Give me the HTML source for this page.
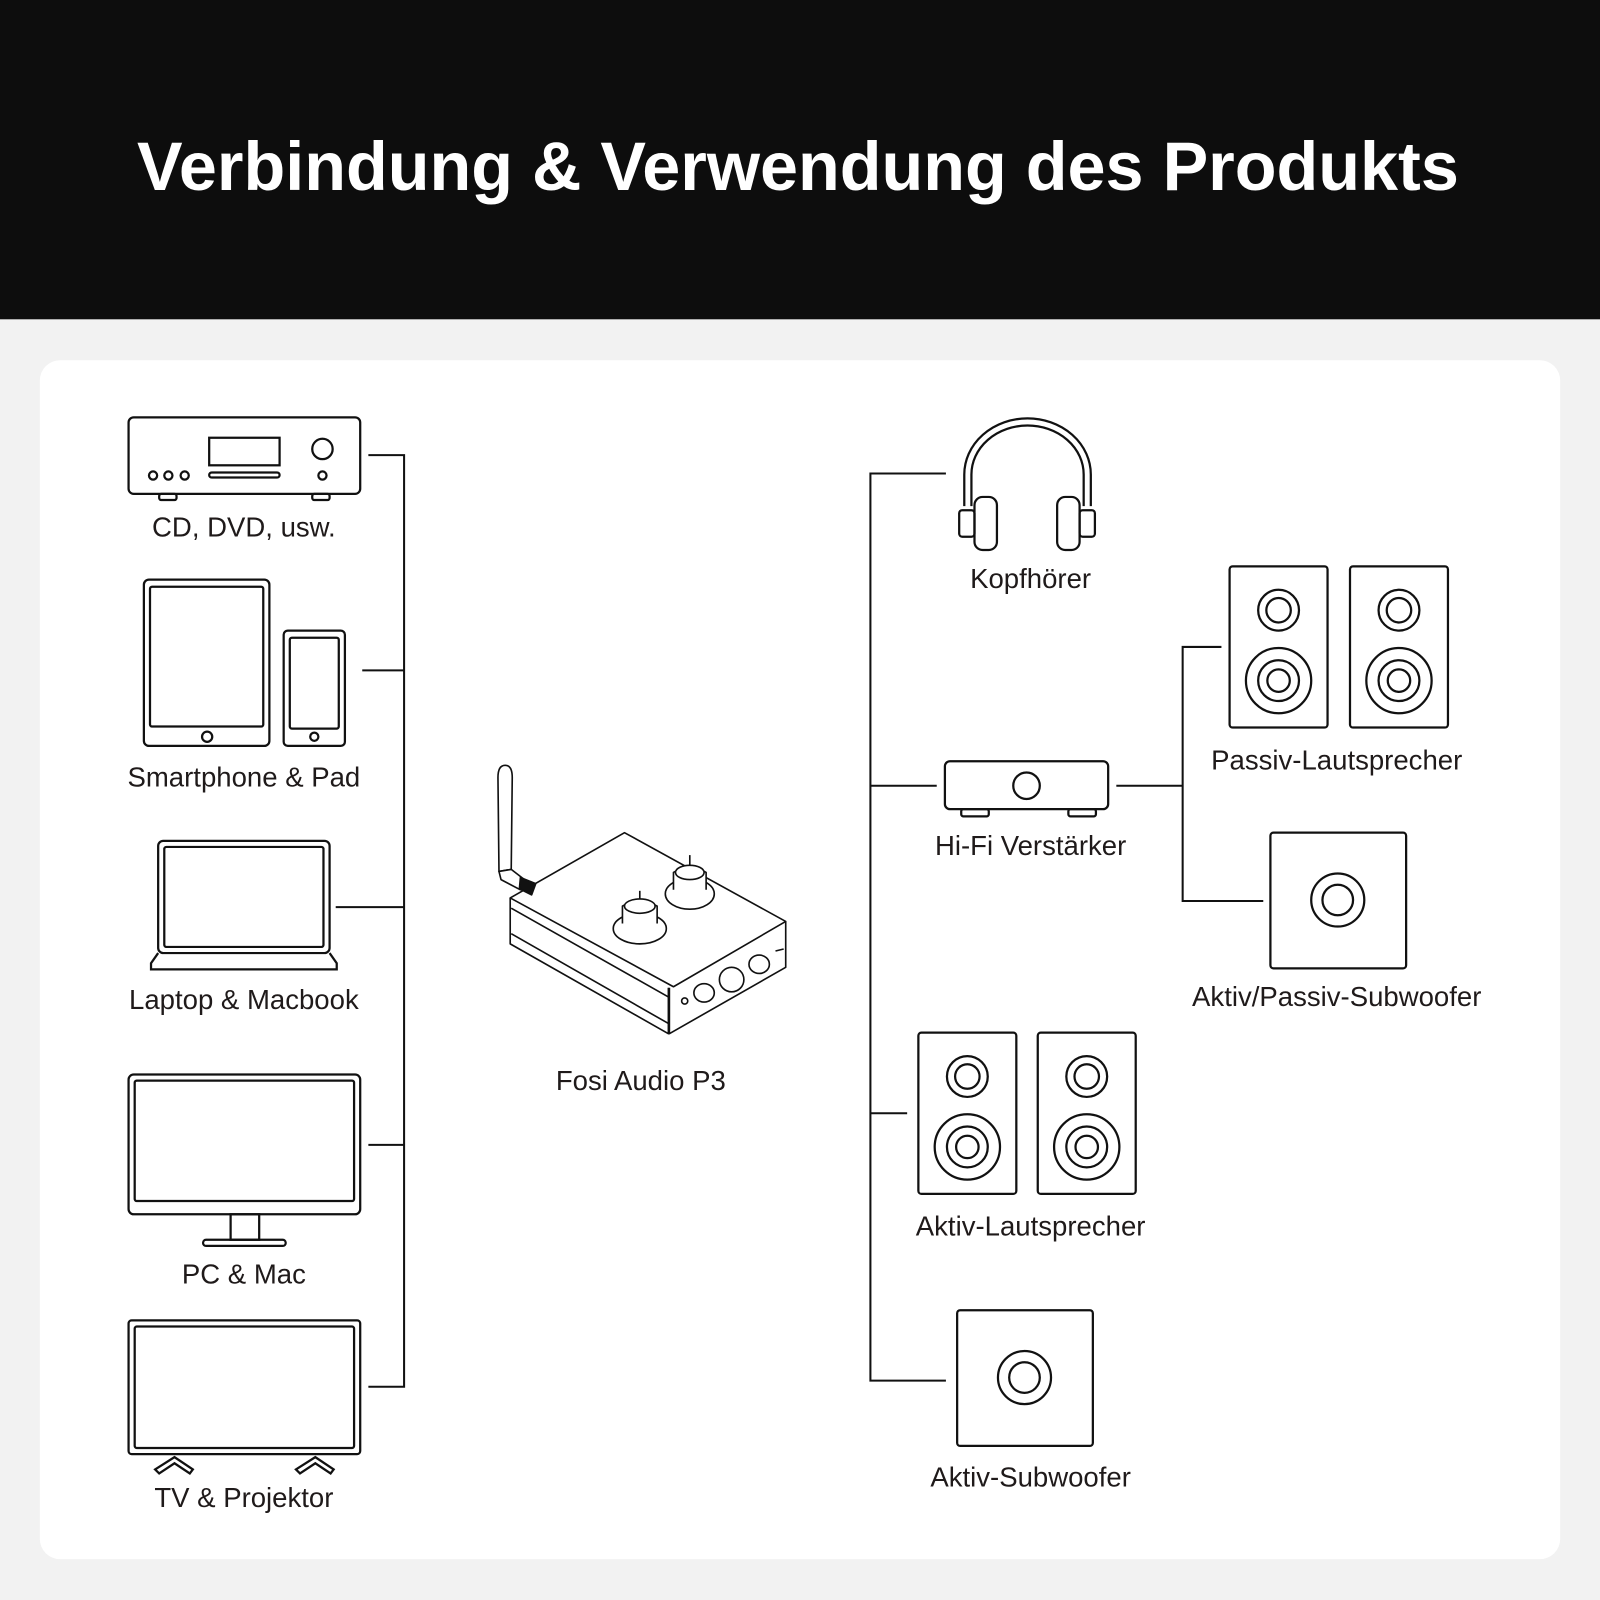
<!DOCTYPE html>
<html><head><meta charset="utf-8"><style>
html,body{margin:0;padding:0;width:1600px;height:1600px;overflow:hidden;background:#f2f2f2}
svg{display:block}
text{font-family:"Liberation Sans",sans-serif;fill:#1f1a1a}
</style></head><body>
<svg width="1600" height="1600" viewBox="0 0 1568 1568" xmlns="http://www.w3.org/2000/svg">
<defs>
<g id="spk" fill="none" stroke="#111" stroke-width="2.2">
<rect x="0" y="0" width="96" height="158" rx="3"/>
<circle cx="48" cy="43" r="20"/><circle cx="48" cy="43" r="12"/>
<circle cx="48" cy="112" r="32"/><circle cx="48" cy="112" r="20"/><circle cx="48" cy="112" r="11"/>
</g>
<g id="sub" fill="none" stroke="#111" stroke-width="2.2">
<rect x="0" y="0" width="133" height="133" rx="3"/>
<circle cx="66" cy="66" r="26"/><circle cx="66" cy="66" r="15"/>
</g>
</defs>
<rect x="0" y="0" width="1568" height="313" fill="#0d0d0d"/>
<rect x="0" y="313" width="1568" height="1255" fill="#f2f2f2"/>
<rect x="39" y="353" width="1490" height="1175" rx="20" fill="#fff"/>
<text x="782" y="186" text-anchor="middle" font-size="67" font-weight="bold" style="fill:#fff">Verbindung &amp; Verwendung des Produkts</text>

<g fill="none" stroke="#111" stroke-width="2">
<path d="M361 446H396V1359H361M355 657H396M329 889H396M361 1122H396"/>
<path d="M927 464H853V1353H927M853 770H918M853 1091H889M1094 770H1159M1197 634H1159V883H1238"/>
</g>

<g fill="none" stroke="#111" stroke-width="2.2">
<rect x="126" y="409" width="227" height="75" rx="5"/>
<rect x="205" y="429" width="69" height="27"/>
<rect x="205" y="463" width="69" height="5" rx="2.5"/>
<circle cx="316" cy="440" r="10"/><circle cx="316" cy="466" r="4"/>
<circle cx="150" cy="466" r="4"/><circle cx="165" cy="466" r="4"/><circle cx="181" cy="466" r="4"/>
<rect x="156" y="484" width="17" height="6" rx="2"/><rect x="306" y="484" width="17" height="6" rx="2"/>
<rect x="141" y="568" width="123" height="163" rx="5"/>
<rect x="147" y="575" width="111" height="137" rx="2"/>
<circle cx="203" cy="722" r="5"/>
<rect x="278" y="618" width="60" height="113" rx="4"/>
<rect x="284" y="625" width="48" height="89" rx="2"/>
<circle cx="308" cy="722" r="4"/>
<rect x="155" y="824" width="168" height="110" rx="5"/>
<rect x="161" y="830" width="156" height="98" rx="2"/>
<path d="M155 934L148 944V950H330V944L323 934"/>
<rect x="126" y="1053" width="227" height="137" rx="5"/>
<rect x="132" y="1059" width="215" height="118" rx="2"/>
<rect x="226" y="1190" width="28" height="25"/>
<rect x="199" y="1215" width="81" height="6" rx="3"/>
<rect x="126" y="1294" width="227" height="131" rx="3"/>
<rect x="132" y="1300" width="215" height="119" rx="2"/>
<path d="M152 1440L171 1428L189 1440L186 1444L171 1434L156 1444Z"/>
<path d="M290 1440L309 1428L327 1440L324 1444L309 1434L294 1444Z"/>
<path d="M945 496V465A62 55 0 0 1 1069 465V496M952 496V465A55 48 0 0 1 1062 465V496"/>
<rect x="955" y="487" width="22" height="52" rx="8" fill="#fff"/>
<rect x="1036" y="487" width="22" height="52" rx="8" fill="#fff"/>
<rect x="940" y="500" width="15" height="26" rx="3"/>
<rect x="1058" y="500" width="15" height="26" rx="3"/>
<rect x="926" y="746" width="160" height="47" rx="5"/>
<circle cx="1006" cy="770" r="13"/>
<rect x="942" y="793" width="27" height="7" rx="2"/><rect x="1047" y="793" width="27" height="7" rx="2"/>
</g>
<use href="#spk" x="1205" y="555"/><use href="#spk" x="1323" y="555"/>
<use href="#sub" x="1245" y="816"/>
<use href="#spk" x="900" y="1012"/><use href="#spk" x="1017" y="1012"/>
<use href="#sub" x="938" y="1284"/>

<g fill="none" stroke="#111" stroke-width="1.6" stroke-linejoin="round">
<path d="M500 880L612 816L770 903L660 967L500 880Z" fill="#fff"/>
<path d="M500 880V925L655 1013V968"/>
<path d="M656 968V1013L770 948V903"/>
<path d="M501 890L655 977M501 915L655 1003"/>
<path d="M488 762Q488 750 495 750Q502 750 502 762L501 852L489 854Z" fill="#fff"/>
<path d="M489 854L491 862L510 872L514 862L501 852Z" fill="#fff"/>
<path d="M510 860L525 866L521 877L509 871Z" fill="#111"/>
<ellipse cx="627" cy="910" rx="26" ry="15" fill="#fff"/>
<path d="M610 905V888Q627 878 644 888V905" fill="#fff"/><ellipse cx="627" cy="888" rx="15" ry="7" fill="#fff"/>
<path d="M627 881V873"/>
<ellipse cx="676" cy="876" rx="24" ry="15" fill="#fff"/>
<path d="M660 872V855Q676 845 692 855V872" fill="#fff"/><ellipse cx="676" cy="855" rx="14" ry="7" fill="#fff"/>
<path d="M676 848V838"/>
<ellipse cx="690" cy="973" rx="10" ry="9"/><ellipse cx="717" cy="960" rx="12" ry="12"/><ellipse cx="744" cy="945" rx="10" ry="9"/>
<circle cx="671" cy="981" r="3"/><path d="M760 932L768 930"/>
</g>

<g font-size="27" text-anchor="middle">
<text x="239" y="526">CD, DVD, usw.</text>
<text x="239" y="771">Smartphone &amp; Pad</text>
<text x="239" y="989">Laptop &amp; Macbook</text>
<text x="239" y="1258">PC &amp; Mac</text>
<text x="239" y="1477">TV &amp; Projektor</text>
<text x="628" y="1068">Fosi Audio P3</text>
<text x="1010" y="576">Kopfhörer</text>
<text x="1010" y="838">Hi-Fi Verstärker</text>
<text x="1310" y="754">Passiv-Lautsprecher</text>
<text x="1310" y="986">Aktiv/Passiv-Subwoofer</text>
<text x="1010" y="1211">Aktiv-Lautsprecher</text>
<text x="1010" y="1457">Aktiv-Subwoofer</text>
</g>
</svg>
</body></html>
